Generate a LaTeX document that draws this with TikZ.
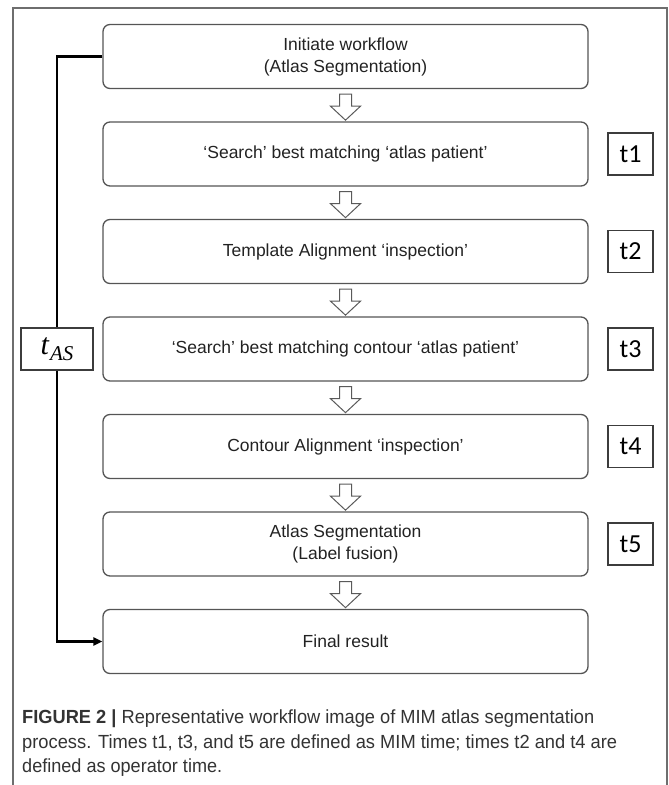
\documentclass[tikz,border=0pt]{standalone}
\usepackage{fontspec}
\setmainfont{Liberation Sans}
\newfontfamily\labelfont{Carlito}
\newfontfamily\tasfont{Liberation Serif}
\usetikzlibrary{arrows.meta,calc}

\definecolor{framegray}{HTML}{6E6E6E}
\definecolor{boxgray}{HTML}{555555}
\definecolor{tgray}{HTML}{3C3C3C}
\definecolor{arrowgray}{HTML}{5A5A5A}
\definecolor{textdark}{HTML}{222222}
\definecolor{captext}{HTML}{333333}

\newcommand\boxfont{\fontsize{17.5}{22}\selectfont}
\newcommand\tfont{\labelfont\fontsize{26}{30}\selectfont}
\newcommand\capfont{\fontsize{19}{24.5}\selectfont}
\newcommand\tAS{{\tasfont\itshape\fontsize{30}{34}\selectfont t\kern1pt\raisebox{-6pt}{\fontsize{21}{24}\selectfont AS}}}
% caption line squeezed to a fixed width, height kept
\newcommand\capline[2]{\resizebox{#1}{\height}{#2}}

\tikzset{
  flowbox/.style={draw=boxgray, line width=1.3pt, rounded corners=7pt,
    minimum width=485pt, minimum height=64pt, inner sep=0pt,
    align=center, font=\boxfont, text=textdark},
  tbox/.style={draw=tgray, line width=1.2pt, minimum width=45pt,
    minimum height=42pt, inner sep=0pt, font=\tfont, text=black},
  tasbox/.style={draw=tgray, line width=1.2pt, fill=white,
    minimum width=72pt, minimum height=42pt, inner sep=0pt},
  blockarrow/.style={draw=arrowgray, line width=1pt, fill=white,
    line join=miter},
  feedback/.style={line width=2.8pt, black},
  framestyle/.style={draw=framegray, line width=1.3pt},
  captionline/.style={anchor=base west, inner sep=0pt, font=\capfont,
    text=captext},
  hollow down/.pic={
    \draw[blockarrow] (-6,0) -- (-6,12) -- (-15,12) -- (0,26)
      -- (15,12) -- (6,12) -- (6,0) -- cycle;
  }
}

\begin{document}
\begin{tikzpicture}[x=1pt,y=-1pt]
\useasboundingbox (0,0) rectangle (669,785);

% outer frame, open at the bottom
\draw[framestyle] (13,785) -- (13,8) -- (667,8) -- (667,785);

% workflow steps
\node[flowbox] (b1) at (345.5,56.5) {Initiate workflow\\(Atlas Segmentation)};
\node[flowbox] (b2) at (345.5,154) {‘Search’ best matching ‘atlas patient’};
\node[flowbox] (b3) at (345.5,251.5) {Template Alignment ‘inspection’};
\node[flowbox] (b4) at (345.5,349) {‘Search’ best matching contour ‘atlas patient’};
\node[flowbox] (b5) at (345.5,446.5) {Contour Alignment ‘inspection’};
\node[flowbox] (b6) at (345.5,544) {Atlas Segmentation\\(Label fusion)};
\node[flowbox] (b7) at (345.5,641.5) {Final result};

% hollow arrows between consecutive steps
\foreach \a in {b1,b2,b3,b4,b5,b6}{
  \pic at ($(\a.south)+(0,5)$) {hollow down};
}

% timing labels
\coordinate (tx) at (630.5,0);
\node[tbox] (t1) at (b2 -| tx) {t1};
\node[tbox] (t2) at (b3 -| tx) {t2};
\node[tbox] (t3) at (b4 -| tx) {t3};
\node[tbox] (t4) at (b5 -| tx) {t4};
\node[tbox] (t5) at (b6 -| tx) {t5};

% overall atlas segmentation time
\coordinate (fbx) at (57,0);
\node[tasbox] (tas) at (b4 -| fbx) {\tAS};
\draw[feedback] (b1.west) -| (tas.north);
\draw[feedback, -{Triangle[length=9pt,width=8pt]}] (tas.south) |- (b7.west);

% caption
\node[captionline] (cap1) at (22,723)
  {\capline{572pt}{\textbf{FIGURE 2 |} Representative workflow image of MIM atlas segmentation}};
\node[captionline] (cap2) at (22,748)
  {\capline{595pt}{process. Times t1, t3, and t5 are defined as MIM time; times t2 and t4 are}};
\node[captionline] (cap3) at (22,772)
  {\capline{200pt}{defined as operator time.}};
\end{tikzpicture}
\end{document}
